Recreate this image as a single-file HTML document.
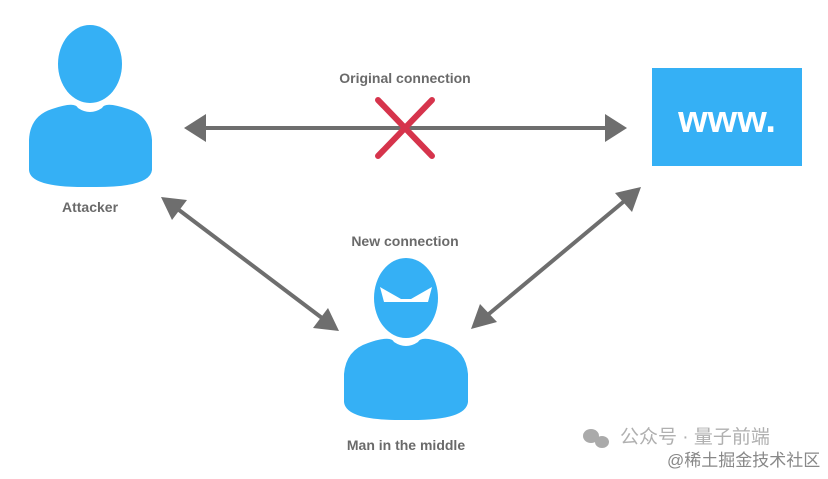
<!DOCTYPE html>
<html><head><meta charset="utf-8"><style>
body{margin:0;width:828px;height:474px;background:#fff;overflow:hidden;font-family:"Liberation Sans","Noto Sans CJK SC",sans-serif;}
</style></head><body>
<svg width="828" height="474" viewBox="0 0 828 474" xmlns="http://www.w3.org/2000/svg">
<defs>
<marker id="ah" markerWidth="8" markerHeight="8" refX="6" refY="4" orient="auto-start-reverse" markerUnits="userSpaceOnUse" viewBox="0 0 8 8">
</marker>
</defs>
<g fill="#6e6e6e" stroke="#6e6e6e">
<line x1="200" y1="128" x2="610" y2="128" stroke-width="4"/>
<polygon points="184,128 206,114 206,142" stroke="none"/>
<polygon points="627,128 605,114 605,142" stroke="none"/>
<line x1="175" y1="207" x2="326" y2="321" stroke-width="4"/>
<polygon points="161,197 187,200 172,220" stroke="none"/>
<polygon points="339,331 313,328 328,308" stroke="none"/>
<line x1="628" y1="198" x2="484" y2="318" stroke-width="4"/>
<polygon points="641,187 632,212 615,193" stroke="none"/>
<polygon points="471,329 480,304 497,322" stroke="none"/>
</g>
<g stroke="#d6344c" stroke-width="6" stroke-linecap="round">
<line x1="378" y1="100" x2="432" y2="156"/>
<line x1="432" y1="100" x2="378" y2="156"/>
</g>
<g fill="#35b0f5">
<ellipse cx="90" cy="64" rx="32" ry="39"/>
<path d="M52,109 Q75,101 78,108 Q90,116 102,108 Q105,101 128,109 Q150,116 152,140 L152,170 Q150,188 90,187 Q30,188 29,170 L29,140 Q30,116 52,109 Z"/>
<ellipse cx="406" cy="298" rx="32" ry="40"/>
<path d="M368,343 Q391,335 394,342 Q406,350 418,342 Q421,335 444,343 Q466,350 468,374 L468,402 Q466,421 406,420 Q346,421 344,402 L344,374 Q346,350 368,343 Z"/>
<rect x="652" y="68" width="150" height="98"/>
</g>
<path d="M380,287 L401,299 L411,299 L432,287 L428,302 L384,302 Z" fill="#fff"/>
<text x="727" y="132" fill="#fff" font-size="38" font-weight="bold" text-anchor="middle">www.</text>
<g fill="#6a6a6a" font-size="14" font-weight="bold" text-anchor="middle">
<text x="405" y="83">Original connection</text>
<text x="405" y="246">New connection</text>
<text x="90" y="212">Attacker</text>
<text x="406" y="450">Man in the middle</text>
</g>
<g fill="#aaa">
<ellipse cx="591" cy="436" rx="8" ry="7"/>
<ellipse cx="602" cy="442" rx="7" ry="6"/>
</g>
<text x="620" y="443" fill="#b0b0b0" font-size="19">公众号 · 量子前端</text>
<text x="667" y="466" fill="#888" font-size="17">@稀土掘金技术社区</text>
</svg>
</body></html>
